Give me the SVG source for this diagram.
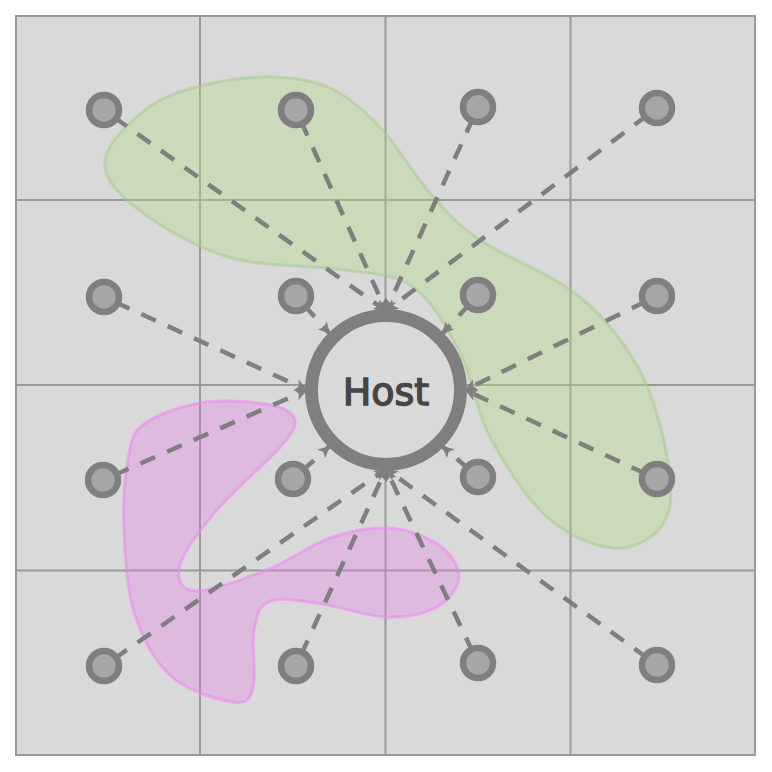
<svg xmlns="http://www.w3.org/2000/svg" width="772" height="772" viewBox="0 0 772 772">
  <style>
    .grid{stroke:#9a9a9a;stroke-width:2;fill:none}
    .bg{fill:#d9d9d9;stroke:#9a9a9a;stroke-width:2}
    .conn{stroke:#7f7f7f;stroke-width:4.5;stroke-dasharray:16 13;fill:none;marker-end:url(#arr)}
    .node{fill:#a6a6a6;stroke:#7f7f7f;stroke-width:6.5}
    .host{fill:#d9d9d9;stroke:#7f7f7f;stroke-width:13}
    .label{font-family:"DejaVu Sans","Liberation Sans",sans-serif;font-size:38px;fill:#454545;stroke:#454545;stroke-width:1.4;text-anchor:middle}
  </style>
  <defs>
    <marker id="arr" viewBox="0 0 10 10" refX="10" refY="5" markerWidth="12" markerHeight="12" markerUnits="userSpaceOnUse" orient="auto">
      <path d="M0,0 L10,5 L0,10 L2.5,5 z" fill="#7f7f7f"/>
    </marker>
  </defs>
  <rect width="772" height="772" fill="#ffffff"/>
  <g id="grid">
    <rect class="bg" x="16" y="16" width="739" height="739"/>
    <line class="grid" x1="200" y1="16" x2="200" y2="755"/>
    <line class="grid" x1="385.5" y1="16" x2="385.5" y2="755"/>
    <line class="grid" x1="570.5" y1="16" x2="570.5" y2="755"/>
    <line class="grid" x1="16" y1="200" x2="755" y2="200"/>
    <line class="grid" x1="16" y1="385" x2="755" y2="385"/>
    <line class="grid" x1="16" y1="570.5" x2="755" y2="570.5"/>
  </g>
  <g id="regions">
    <path id="green-region" fill="#b0de80" fill-opacity="0.35" stroke="#a3c98a" stroke-opacity="0.5" stroke-width="3"
      d="M105,160 C106.7,143.8 129.2,122.3 145,110 C160.8,97.7 179.2,91.5 200,86 C220.8,80.5 248.3,76.7 270,77 C291.7,77.3 311.7,79.7 330,88 C348.3,96.3 363.3,109.5 380,127 C396.7,144.5 413.3,174.2 430,193 C446.7,211.8 455,222.7 480,240 C505,257.3 552.8,274.2 580,297 C607.2,319.8 628,347 643,377 C658,407 667.2,451.8 670,477 C672.8,502.2 669.5,516.2 660,528 C650.5,539.8 631.8,549.8 613,548 C594.2,546.2 567.5,535.5 547,517 C526.5,498.5 504.5,464.3 490,437 C475.5,409.7 472.8,378 460,353 C447.2,328 432.2,300.8 413,287 C393.8,273.2 375.8,275 345,270 C314.2,265 263,267.5 228,257 C193,246.5 155.5,223.2 135,207 C114.5,190.8 103.3,176.2 105,160 Z"/>
    <path id="pink-region" fill="#eb78eb" fill-opacity="0.3" stroke="#ee88ee" stroke-opacity="0.6" stroke-width="3"
      d="M143,425 C155,415.5 179.7,406.5 200,403 C220.3,399.5 249.3,401.5 265,404 C280.7,406.5 291.2,411.2 294,418 C296.8,424.8 294.8,429.7 282,445 C269.2,460.3 234,490 217,510 C200,530 183.7,551.5 180,565 C176.3,578.5 180.5,590.2 195,591 C209.5,591.8 244.5,578.8 267,570 C289.5,561.2 309.5,545 330,538 C350.5,531 371.7,526.7 390,528 C408.3,529.3 428.5,537.8 440,546 C451.5,554.2 459.5,566.8 459,577 C458.5,587.2 449,600.3 437,607 C425,613.7 406.2,617.5 387,617 C367.8,616.5 341.5,606.7 322,604 C302.5,601.3 281.3,596.7 270,601 C258.7,605.3 256.8,615.5 254,630 C251.2,644.5 256.5,676 253,688 C249.5,700 246.5,703.8 233,702 C219.5,700.2 188.3,691.5 172,677 C155.7,662.5 143,639.5 135,615 C127,590.5 125.2,555.8 124,530 C122.8,504.2 124.8,477.5 128,460 C131.2,442.5 131,434.5 143,425 Z"/>
  </g>
  <g id="connectors">
    <line class="conn" x1="113.8" y1="117" x2="386" y2="311"/>
    <line class="conn" x1="300.9" y1="121" x2="386" y2="311"/>
    <line class="conn" x1="473.1" y1="117.9" x2="386" y2="311"/>
    <line class="conn" x1="647.4" y1="115.2" x2="386" y2="311"/>
    <line class="conn" x1="114.9" y1="302" x2="307" y2="390"/>
    <line class="conn" x1="304" y1="304.9" x2="330.1" y2="334.1"/>
    <line class="conn" x1="469.9" y1="303.8" x2="441.9" y2="334.1"/>
    <line class="conn" x1="646.2" y1="301.3" x2="465" y2="390"/>
    <line class="conn" x1="114" y1="475.2" x2="307" y2="390"/>
    <line class="conn" x1="302" y1="471" x2="330.1" y2="445.9"/>
    <line class="conn" x1="468.9" y1="469.2" x2="441.9" y2="445.9"/>
    <line class="conn" x1="646.1" y1="474" x2="465" y2="390"/>
    <line class="conn" x1="113.8" y1="659.1" x2="386" y2="469"/>
    <line class="conn" x1="301" y1="655.1" x2="386" y2="469"/>
    <line class="conn" x1="472.9" y1="652.2" x2="386" y2="469"/>
    <line class="conn" x1="647.3" y1="658" x2="386" y2="469"/>
  </g>
  <g id="n-r1c1"><circle class="node" cx="104" cy="110" r="15"/></g>
  <g id="n-r1c2"><circle class="node" cx="296" cy="110" r="15"/></g>
  <g id="n-r1c3"><circle class="node" cx="478" cy="107" r="15"/></g>
  <g id="n-r1c4"><circle class="node" cx="657" cy="108" r="15"/></g>
  <g id="n-r2c1"><circle class="node" cx="104" cy="297" r="15"/></g>
  <g id="n-r2c2"><circle class="node" cx="296" cy="296" r="15"/></g>
  <g id="n-r2c3"><circle class="node" cx="478" cy="295" r="15"/></g>
  <g id="n-r2c4"><circle class="node" cx="657" cy="296" r="15"/></g>
  <g id="n-r3c1"><circle class="node" cx="103" cy="480" r="15"/></g>
  <g id="n-r3c2"><circle class="node" cx="293" cy="479" r="15"/></g>
  <g id="n-r3c3"><circle class="node" cx="478" cy="477" r="15"/></g>
  <g id="n-r3c4"><circle class="node" cx="657" cy="479" r="15"/></g>
  <g id="n-r4c1"><circle class="node" cx="104" cy="666" r="15"/></g>
  <g id="n-r4c2"><circle class="node" cx="296" cy="666" r="15"/></g>
  <g id="n-r4c3"><circle class="node" cx="478" cy="663" r="15"/></g>
  <g id="n-r4c4"><circle class="node" cx="657" cy="665" r="15"/></g>
  <g id="host">
    <circle class="host" cx="386" cy="390" r="74.5"/>
    <text class="label" x="386" y="405">Host</text>
  </g>
</svg>
